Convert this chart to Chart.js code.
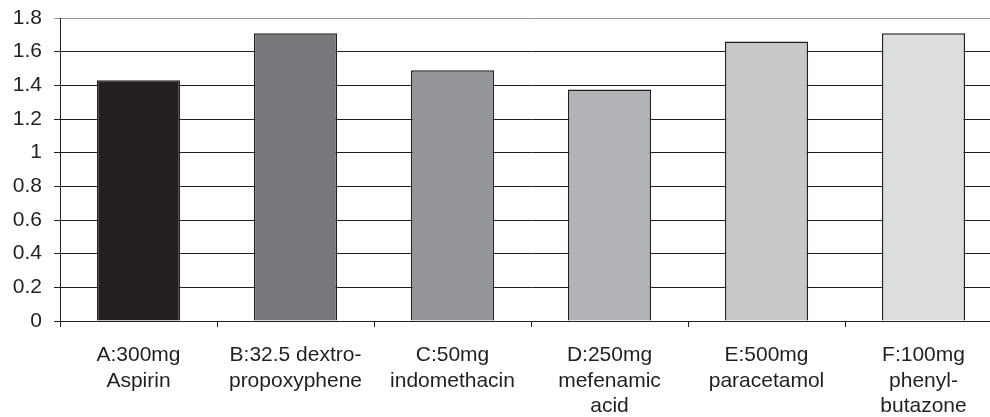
<!DOCTYPE html>
<html>
<head>
<meta charset="utf-8">
<script src="https://cdn.jsdelivr.net/npm/chart.js@4/dist/chart.umd.min.js"></script>
<style>
  html, body { margin: 0; padding: 0; background: #fff; overflow: hidden; }
  #wrap { width: 1002px; height: 417px; }
</style>
</head>
<body>
<div id="wrap"><canvas id="chart_analgesics"></canvas></div>
<script>
var categories = [
    ['A:300mg', 'Aspirin'],
    ['B:32.5 dextro-', 'propoxyphene'],
    ['C:50mg', 'indomethacin'],
    ['D:250mg', 'mefenamic', 'acid'],
    ['E:500mg', 'paracetamol'],
    ['F:100mg', 'phenyl-', 'butazone']
];
var values = [1.43, 1.71, 1.49, 1.375, 1.66, 1.71];
var barColors = ['#231f20', '#77787b', '#939598', '#b1b3b6', '#c7c8ca', '#dcdddf'];

var ink = '#231f20';
var font = { family: "'Liberation Sans', Arial, sans-serif", size: 21, lineHeight: 1.2 };

var chart_analgesics = new Chart(document.getElementById('chart_analgesics'), {
    type: 'bar',
    data: {
        labels: categories,
        datasets: [{
            data: values,
            backgroundColor: barColors,
            borderColor: ink,
            borderWidth: 1.5,
            categoryPercentage: 1,
            barPercentage: 0.53
        }]
    },
    options: {
        animation: false,
        responsive: true,
        maintainAspectRatio: false,
        layout: { padding: { top: 0, right: 0, left: 0, bottom: 0 } },
        plugins: {
            legend: { display: false },
            tooltip: { enabled: false }
        },
        scales: {
            x: {
                offset: true,
                grid: {
                    offset: true,
                    drawOnChartArea: false,
                    drawTicks: true,
                    tickLength: 6,
                    color: ink
                },
                border: { display: true, color: ink, width: 1 },
                ticks: {
                    color: ink,
                    font: font,
                    padding: 16,
                    maxRotation: 0,
                    autoSkip: false
                },
                afterFit: function(scale) { scale.height = 96; }
            },
            y: {
                min: 0,
                max: 1.8,
                ticks: {
                    stepSize: 0.2,
                    color: ink,
                    font: font,
                    padding: 12,
                    callback: function(value) {
                        return Math.round(value * 10) / 10;
                    }
                },
                grid: {
                    color: function(ctx) {
                        return ctx.tick && ctx.tick.value >= 1.8 ? '#9a9a9a' : ink;
                    },
                    lineWidth: 1,
                    tickLength: 6
                },
                border: { display: true, color: ink, width: 1 },
                afterFit: function(scale) { scale.width = 60; scale.paddingTop = 18; }
            }
        }
    }
});
</script>
</body>
</html>
